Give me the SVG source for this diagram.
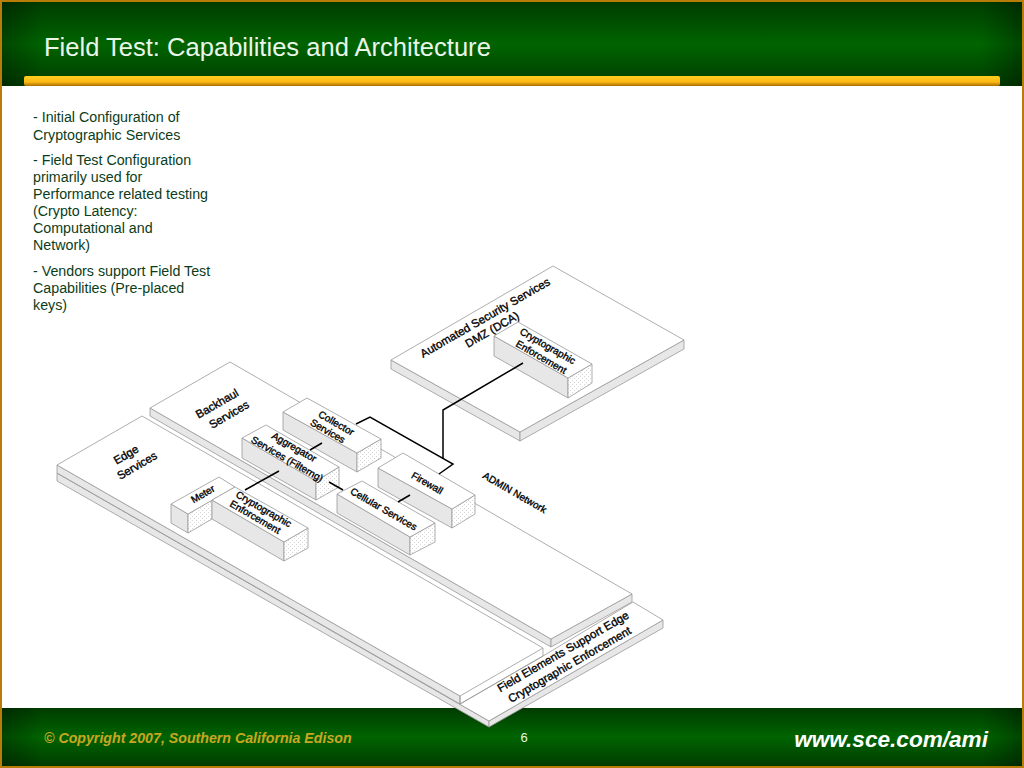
<svg xmlns="http://www.w3.org/2000/svg" width="1024" height="768" viewBox="0 0 1024 768">
<style>
.f{fill:#fff;stroke:#999;stroke-width:.8;stroke-linejoin:round}
.s{fill:#e7e7e7;stroke:#999;stroke-width:.8;stroke-linejoin:round}
.d{fill:url(#st);stroke:#999;stroke-width:.8;stroke-linejoin:round}
.e{stroke:#999;stroke-width:.8}
.t{font-family:"Liberation Sans",Arial,sans-serif;font-size:11.5px;fill:#000;stroke:#000;stroke-width:.35;text-anchor:middle}
.n{font-size:10px}
.b{font-family:"Liberation Sans",Arial,sans-serif;font-size:14.25px;fill:#0b3d1a}
.c{fill:none;stroke:#000;stroke-width:1.5;stroke-linejoin:miter}
</style>
<defs>
<linearGradient id="gh" x1="0" y1="0" x2="0" y2="1"><stop offset="0" stop-color="#003c00"/><stop offset=".5" stop-color="#006400"/><stop offset="1" stop-color="#003c00"/></linearGradient>
<linearGradient id="gv" x1="0" y1="0" x2="1" y2="0"><stop offset="0" stop-color="#000" stop-opacity=".3"/><stop offset=".04" stop-color="#000" stop-opacity="0"/><stop offset=".96" stop-color="#000" stop-opacity="0"/><stop offset="1" stop-color="#000" stop-opacity=".3"/></linearGradient>
<linearGradient id="gb" x1="0" y1="0" x2="0" y2="1"><stop offset="0" stop-color="#ffcf20"/><stop offset=".6" stop-color="#fdb813"/><stop offset="1" stop-color="#a86c00"/></linearGradient>
<pattern id="st" width="4" height="4" patternUnits="userSpaceOnUse"><rect width="4" height="4" fill="#fff"/><rect x="0" y="0" width="1" height="1" fill="#d6d6d6"/><rect x="2" y="2" width="1" height="1" fill="#d6d6d6"/></pattern>
</defs>
<rect width="1024" height="768" fill="#b87d08"/>
<rect x="2" y="86" width="1020" height="622" fill="#fff"/>
<rect x="2" y="2" width="1020" height="84" fill="url(#gh)"/>
<rect x="2" y="2" width="1020" height="84" fill="url(#gv)"/>
<rect x="2" y="708" width="1020" height="58" fill="url(#gh)"/>
<rect x="2" y="708" width="1020" height="58" fill="url(#gv)"/>
<rect x="24" y="76" width="976" height="10" rx="2" fill="url(#gb)"/>
<text x="44" y="56" font-family="'Liberation Sans',Arial,sans-serif" font-size="25.55" fill="#e9f6e9">Field Test: Capabilities and Architecture</text>
<text x="44" y="743" font-family="'Liberation Sans',Arial,sans-serif" font-size="14.2" font-weight="bold" font-style="italic" fill="#c9a622">© Copyright 2007, Southern California Edison</text>
<text x="524" y="742" font-family="'Liberation Sans',Arial,sans-serif" font-size="13" fill="#e9f6e9" text-anchor="middle">6</text>
<text x="988" y="747" font-family="'Liberation Sans',Arial,sans-serif" font-size="22.6" font-weight="bold" font-style="italic" fill="#fff" text-anchor="end">www.sce.com/ami</text>
<g id="bullets" class="b">
<text x="33" y="122">- Initial Configuration of</text>
<text x="33" y="140">Cryptographic Services</text>
<text x="33" y="165">- Field Test Configuration</text>
<text x="33" y="182">primarily used for</text>
<text x="33" y="199">Performance related testing</text>
<text x="33" y="216">(Crypto Latency:</text>
<text x="33" y="233">Computational and</text>
<text x="33" y="250">Network)</text>
<text x="33" y="276">- Vendors support Field Test</text>
<text x="33" y="293">Capabilities (Pre-placed</text>
<text x="33" y="310">keys)</text>
</g>
<g id="plate-field">
<polygon class="s" points="57,473 489,721 489,727 57,481"/>
<polygon class="s" points="489,721 663,620 663,628 489,727"/>
<polygon class="f" points="57,473 460,704 543,656 633,602 663,620 489,721"/>
<text class="t" transform="translate(565,655) rotate(-30)">Field Elements Support Edge</text>
<text class="t" transform="translate(571.5,668) rotate(-30)">Cryptographic Enforcement</text>
</g>
<g id="plate-edge">
<polygon class="s" points="57,465 460,696 460,704 57,473"/>
<polygon class="f" points="57,465 142,416 543,648 460,696"/>
<line class="e" x1="460" y1="696" x2="460" y2="704"/>
<line class="e" x1="460" y1="704" x2="543" y2="656"/>
<line class="e" x1="543" y1="648" x2="543" y2="656"/>
<text class="t" transform="translate(128,458) rotate(-30)">Edge</text>
<text class="t" transform="translate(139,469) rotate(-30)">Services</text>
</g>
<g id="plate-backhaul">
<polygon class="s" points="150,408 551,639 551,647 150,416"/>
<polygon class="s" points="551,639 632,594 632,602 551,647"/>
<polygon class="f" points="150,408 230,362 632,594 551,639"/>
<text class="t" transform="translate(219,407) rotate(-30)">Backhaul</text>
<text class="t" transform="translate(231,418) rotate(-30)">Services</text>
<text class="t n" transform="translate(513,495.5) rotate(30)">ADMIN Network</text>
</g>
<g id="plate-dmz">
<polygon class="s" points="391,360 520,432 520,441 391,369"/>
<polygon class="s" points="520,432 684,340 684,349 520,441"/>
<polygon class="f" points="391,360 553,266 684,340 520,432"/>
<text class="t" transform="translate(487,321) rotate(-30)">Automated Security Services</text>
<text class="t" transform="translate(494,333) rotate(-30)">DMZ (DCA)</text>
</g>
<g id="box-dmz-crypto">
<polygon class="s" points="494,336 568,378 568,398 494,356"/>
<polygon class="d" points="568,378 592,364 592,383 568,398"/>
<polygon class="f" points="494,336 518,322 592,364 568,378"/>
<text class="t n" transform="translate(546,349) rotate(30)">Cryptographic</text>
<text class="t n" transform="translate(539.5,360) rotate(30)">Enforcement</text>
</g>
<g id="box-collector">
<polygon class="s" points="283,412 357,453 357,472 283,430"/>
<polygon class="d" points="357,453 381,439 381,458 357,472"/>
<polygon class="f" points="283,412 307,398 381,439 357,453"/>
<text class="t n" transform="translate(334.5,426) rotate(30)">Collector</text>
<text class="t n" transform="translate(326,434) rotate(30)">Services</text>
</g>
<g id="box-aggregator">
<polygon class="s" points="242,438 316,481 316,500 242,458"/>
<polygon class="d" points="316,481 339,467 339,487 316,500"/>
<polygon class="f" points="242,438 266,425 339,467 316,481"/>
<text class="t n" transform="translate(292.5,450) rotate(30)">Aggregator</text>
<text class="t n" transform="translate(285.5,462) rotate(30)">Services (Filterng)</text>
</g>
<g id="box-firewall">
<polygon class="s" points="378,468 452,509 452,528 378,487"/>
<polygon class="d" points="452,509 475,495 475,514 452,528"/>
<polygon class="f" points="378,468 403,453 475,495 452,509"/>
<text class="t n" transform="translate(425.5,486) rotate(30)">Firewall</text>
</g>
<g id="box-cellular">
<polygon class="s" points="337,494 410,537 410,555 337,513"/>
<polygon class="d" points="410,537 435,523 435,542 410,555"/>
<polygon class="f" points="337,494 362,481 435,523 410,537"/>
<text class="t n" transform="translate(382,512) rotate(30)">Cellular Services</text>
</g>
<g id="box-meter">
<polygon class="s" points="171,504 188,514 188,533 171,523"/>
<polygon class="d" points="188,514 212,500 212,519 188,533"/>
<polygon class="f" points="171,504 219,477 235,487 188,514"/>
<text class="t n" transform="translate(204.5,497) rotate(-30)">Meter</text>
</g>
<g id="box-edge-crypto">
<polygon class="s" points="212,500 284,542 284,561 212,519"/>
<polygon class="d" points="284,542 308,528 308,548 284,561"/>
<polygon class="f" points="212,500 235,487 308,528 284,542"/>
<text class="t n" transform="translate(262,512) rotate(30)">Cryptographic</text>
<text class="t n" transform="translate(253.5,520) rotate(30)">Enforcement</text>
</g>
<g id="connectors">
<polyline class="c" points="523,363 443,410 443,459"/>
<polyline class="c" points="356,424 370,417 453,464 439,474"/>
<line class="c" x1="310" y1="450" x2="322" y2="443"/>
<line class="c" x1="245" y1="490" x2="279" y2="471"/>
<line class="c" x1="329" y1="482" x2="343" y2="490"/>
<line class="c" x1="398" y1="502" x2="410" y2="495"/>
</g>
</svg>
